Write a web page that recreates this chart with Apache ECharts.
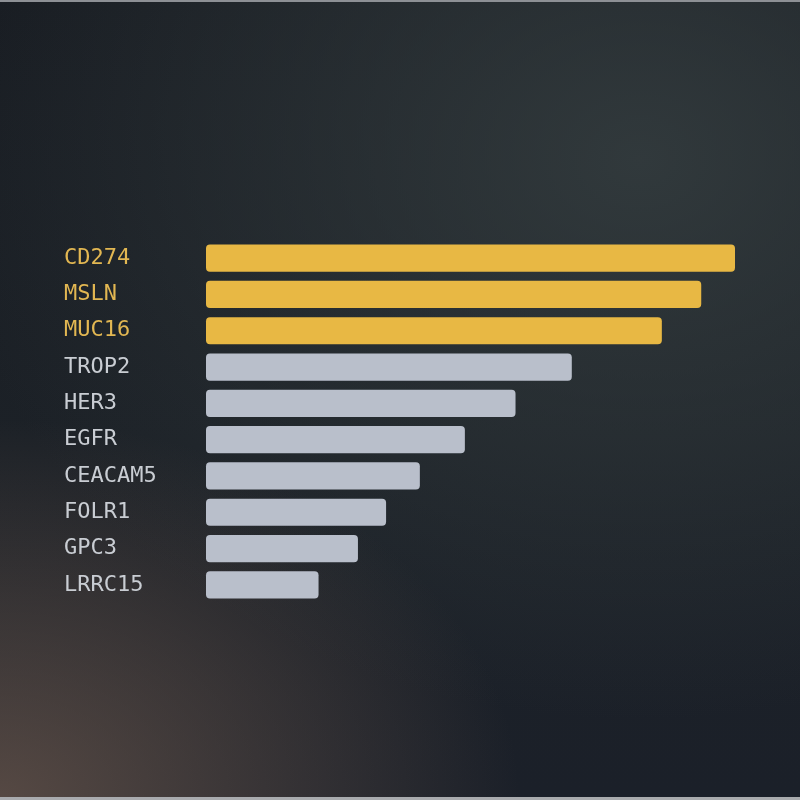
<!DOCTYPE html>
<html>
<head>
<meta charset="utf-8">
<script src="https://cdn.jsdelivr.net/npm/echarts@6/dist/echarts.min.js"></script>
<style>
  html, body { margin: 0; padding: 0; }
  body {
    width: 800px; height: 800px; overflow: hidden; box-sizing: border-box;
    border-top: 2px solid #8d9095; border-bottom: 3px solid #a9abae;
    background:
      radial-gradient(ellipse 520px 380px at 0% 100%, rgba(125, 100, 85, 0.6), rgba(125, 100, 85, 0) 100%),
      radial-gradient(ellipse 700px 560px at 80% 20%, rgba(55, 64, 66, 0.8), rgba(55, 64, 66, 0) 100%),
      linear-gradient(180deg, #181c22 0%, #1c2127 55%, #1b2029 100%);
  }
  #chart { width: 800px; height: 795px; }
</style>
</head>
<body>
<div id="chart"></div>
<script>
// targets, top to bottom
const targets = ['CD274', 'MSLN', 'MUC16', 'TROP2', 'HER3', 'EGFR', 'CEACAM5', 'FOLR1', 'GPC3', 'LRRC15'];
const values = [47, 44, 40.5, 32.5, 27.5, 23, 19, 16, 13.5, 10];
const highlighted = ['CD274', 'MSLN', 'MUC16'];

const gold = '#e8b844';
const grey = '#b9bfcb';

var chartDom = document.getElementById('chart');
var myChart = echarts.init(chartDom);

const barData = values.map((v, i) => ({
    value: v,
    itemStyle: { color: highlighted.includes(targets[i]) ? gold : grey }
}));

var option = {
    backgroundColor: 'transparent',
    animation: false,
    grid: {
        left: 206,
        right: 65,
        top: 238,
        bottom: 194
    },
    xAxis: {
        type: 'value',
        min: 0,
        max: 47,
        show: false
    },
    yAxis: {
        type: 'category',
        inverse: true,
        data: targets,
        axisLine: { show: false },
        axisTick: { show: false },
        splitLine: { show: false },
        axisLabel: {
            align: 'left',
            margin: 142,
            fontFamily: 'DejaVu Sans Mono',
            fontSize: 22,
            color: function (val) {
                return highlighted.includes(val) ? '#e2b752' : '#c9cdd3';
            }
        }
    },
    series: [{
        type: 'bar',
        data: barData,
        barCategoryGap: '25%',
        itemStyle: { borderRadius: 4 }
    }]
};

option && myChart.setOption(option);
</script>
</body>
</html>
